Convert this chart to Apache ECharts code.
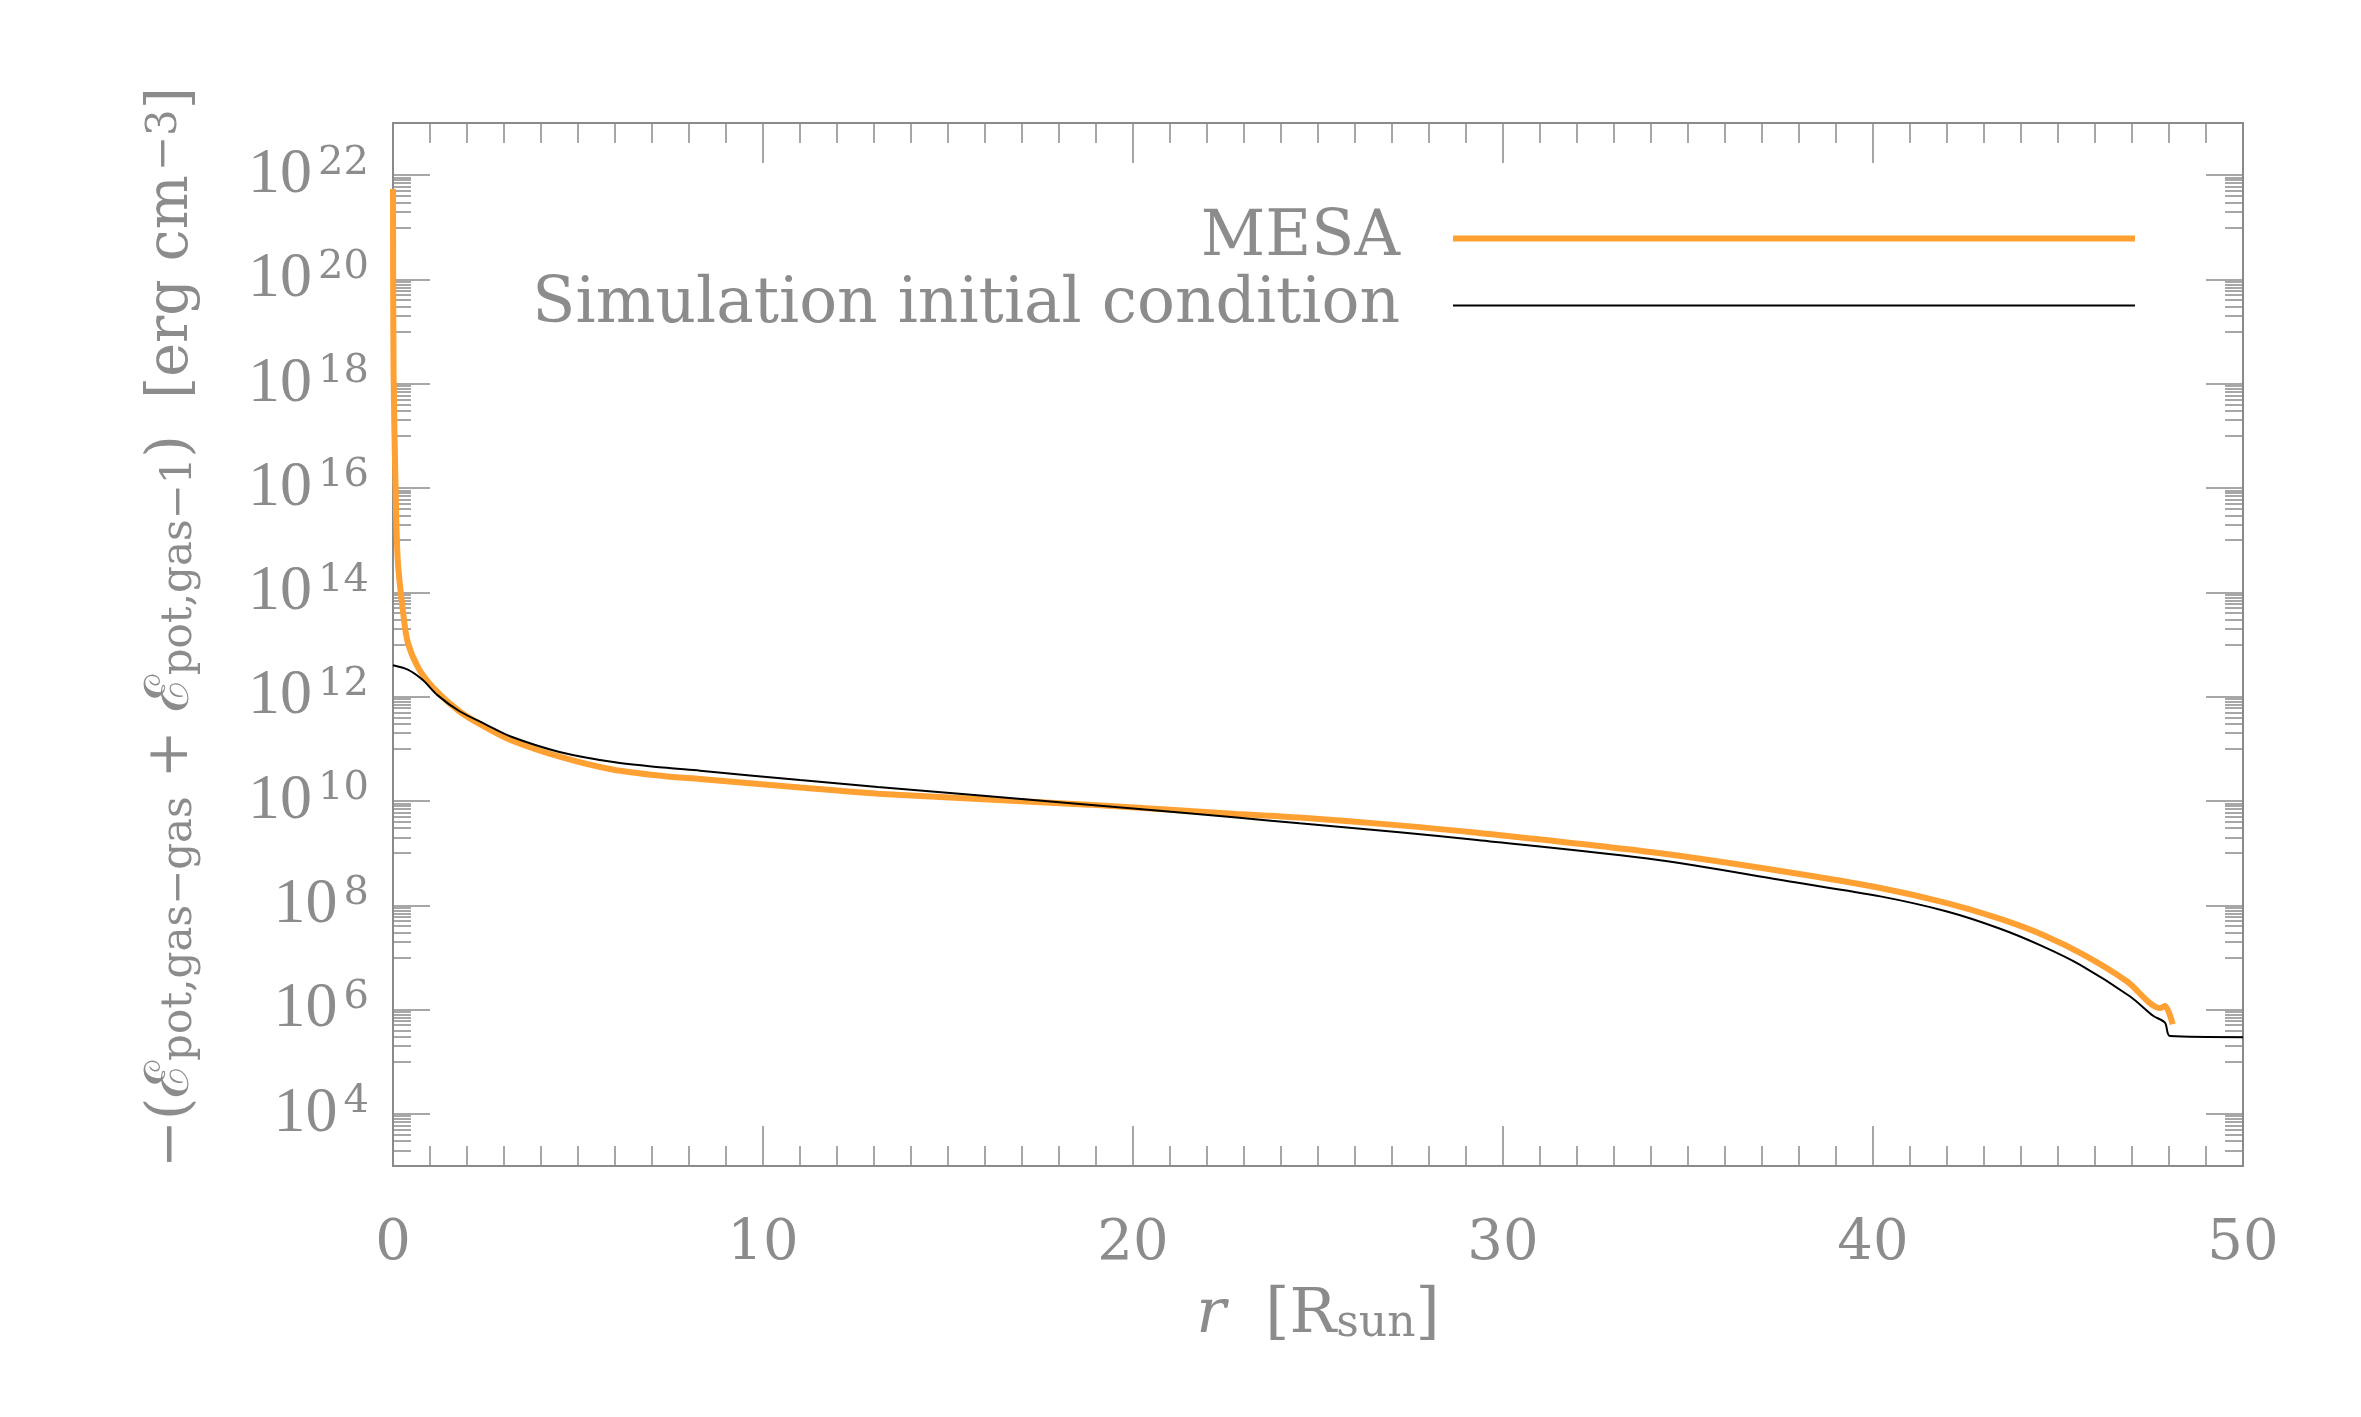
<!DOCTYPE html>
<html>
<head>
<meta charset="utf-8">
<title>Gravitational potential energy density</title>
<script src="https://cdn.jsdelivr.net/npm/echarts@6/dist/echarts.min.js"></script>
<style>
    html, body { margin: 0; padding: 0; background: #ffffff; }
    #chart { width: 2361px; height: 1417px; }
</style>
</head>
<body>
<div id="chart"></div>
<script>
// radius in R_sun, energy density in erg cm^-3
var mesaR = [0, 0.015, 0.07, 0.13, 0.27, 0.4, 0.69, 1.1, 1.79, 2.48, 3.17, 4.55, 5.93, 7.3, 8.3, 11, 13.1, 18.8, 22.8, 24.5, 27.2, 29.3, 34.2, 37.8, 40.2, 42.0, 43.4, 44.6, 45.7, 46.86, 47.76, 47.89, 48.1];
var mesaE = [5.4e21, 1.7e18, 9.5e15, 4.0e14, 4.3e13, 1.1e13, 3.5e12, 1.45e12, 5.25e11, 2.63e11, 1.48e11, 6.9e10, 4.0e10, 3.0e10, 2.63e10, 1.82e10, 1.38e10, 8.5e9, 5.6e9, 4.8e9, 3.4e9, 2.45e9, 1.0e9, 4.2e8, 2.14e8, 1.1e8, 5.6e7, 2.7e7, 1.12e7, 3.5e6, 1.07e6, 1.17e6, 5.2e5];

var simR = [0, 0.4, 0.8, 1.2, 1.8, 2.5, 3.2, 4.5, 6.0, 7.3, 8.3, 11, 13.1, 18.8, 22.8, 24.5, 27.2, 29.3, 34.2, 37.8, 40.2, 42.0, 43.4, 44.5, 45.6, 46.95, 47.57, 47.89, 48.03, 50];
var simE = [4.0e12, 3.3e12, 2.1e12, 1.07e12, 5.25e11, 2.95e11, 1.70e11, 8.7e10, 5.5e10, 4.37e10, 3.8e10, 2.51e10, 1.86e10, 8.5e9, 4.8e9, 3.72e9, 2.5e9, 1.78e9, 7.4e8, 2.82e8, 1.48e8, 7.6e7, 3.63e7, 1.74e7, 7.2e6, 1.78e6, 7.6e5, 5.6e5, 3.1e5, 2.95e5];

// labelled decades on the y axis
var yMajorTicks = [1e4, 1e6, 1e8, 1e10, 1e12, 1e14, 1e16, 1e18, 1e20, 1e22];
// minor ticks: 1..9 x 10^odd
var yMinorTicks = [];
for (var e = 3; e <= 23; e += 2) {
    for (var k = 1; k <= 9; k++) {
        var v = k * Math.pow(10, e);
        if (v >= 1e3 && v <= 1e23) {
            yMinorTicks.push(v);
        }
    }
}

var GRAY = '#8c8c8c';
var AXIS_GRAY = '#8a8a8a';
var FONT = '"Liberation Serif", "DejaVu Serif", serif';
var WIDE = '"DejaVu Serif", serif';

function pairs(xs, ys) {
    var out = [];
    for (var i = 0; i < xs.length; i++) {
        out.push([xs[i], ys[i]]);
    }
    return out;
}

var myChart = echarts.init(document.getElementById('chart'), null, { renderer: 'canvas' });

var yBase = {
    type: 'log',
    logBase: 10,
    min: 1e3,
    max: 1e23,
    splitLine: { show: false },
    minorTick: { show: false },
    minorSplitLine: { show: false }
};

function yAxisOf(extra) {
    return Object.assign({}, yBase, extra);
}

var xBase = {
    type: 'value',
    min: 0,
    max: 50,
    interval: 10,
    axisLine: { show: true, onZero: false, lineStyle: { color: AXIS_GRAY, width: 2 } },
    axisTick: { show: true, inside: true, length: 40, lineStyle: { color: AXIS_GRAY, width: 1.5 } },
    minorTick: { show: true, splitNumber: 10, length: 20, lineStyle: { color: AXIS_GRAY, width: 1.5 } },
    splitLine: { show: false },
    minorSplitLine: { show: false }
};

var legendText = { color: GRAY, fontSize: 63, fontFamily: WIDE, padding: [0, 48, 0, 0] };

option = {
    animation: false,
    backgroundColor: '#ffffff',
    grid: {
        left: 393,
        right: 118,
        top: 123,
        bottom: 251,
        containLabel: false
    },
    legend: [{
        data: ['MESA'],
        right: 226,
        top: 207,
        padding: 0,
        align: 'right',
        icon: 'rect',
        itemWidth: 682,
        itemHeight: 6,
        textStyle: legendText
    }, {
        data: ['Simulation initial condition'],
        right: 226,
        top: 274,
        padding: 0,
        align: 'right',
        icon: 'rect',
        itemWidth: 682,
        itemHeight: 2,
        textStyle: legendText
    }],
    xAxis: [
        Object.assign({}, xBase, {
            position: 'bottom',
            axisLabel: { show: true, margin: 50, color: GRAY, fontSize: 56, fontFamily: WIDE },
            name: '{i|r}{t|  [R}{sub|sun}{t|]}',
            nameLocation: 'middle',
            nameGap: 116,
            nameTextStyle: {
                rich: {
                    i: { fontSize: 62, lineHeight: 62, fontStyle: 'italic', color: GRAY, fontFamily: WIDE, verticalAlign: 'top' },
                    t: { fontSize: 62, lineHeight: 62, color: GRAY, fontFamily: WIDE, verticalAlign: 'top' },
                    sub: { fontSize: 44, lineHeight: 44, color: GRAY, fontFamily: WIDE, verticalAlign: 'bottom', padding: [26, 0, 0, 0] }
                }
            }
        }),
        Object.assign({}, xBase, {
            position: 'top',
            axisLabel: { show: false }
        })
    ],
    yAxis: [
        yAxisOf({
            position: 'left',
            axisLine: { show: true, lineStyle: { color: AXIS_GRAY, width: 2 } },
            axisTick: { show: true, inside: true, length: 37, customValues: yMajorTicks, lineStyle: { color: AXIS_GRAY, width: 1.5 } },
            axisLabel: {
                show: true,
                margin: 24,
                customValues: yMajorTicks,
                formatter: function (val) {
                    var p = Math.round(Math.log10(val));
                    return '{b|10}{s|' + p + '}';
                },
                rich: {
                    b: { fontSize: 64, lineHeight: 64, color: GRAY, fontFamily: FONT, verticalAlign: 'bottom' },
                    s: { fontSize: 40, lineHeight: 40, color: GRAY, fontFamily: WIDE, verticalAlign: 'top', padding: [0, 0, 30, 6] }
                }
            },
            name: '{t|−(}{e|ℰ}{sub|pot,gas−gas}{t| + }{e|ℰ}{sub|pot,gas−1}{t|)  [erg cm}{sup|−3}{t|]}',
            nameLocation: 'middle',
            nameGap: 192,
            nameTextStyle: {
                padding: [0, 0, 0, 34],
                rich: {
                    t: { fontSize: 57, lineHeight: 57, color: GRAY, fontFamily: WIDE, verticalAlign: 'middle' },
                    e: { fontSize: 61, lineHeight: 57, color: GRAY, fontFamily: WIDE, verticalAlign: 'middle' },
                    sub: { fontSize: 42, lineHeight: 42, color: GRAY, fontFamily: WIDE, verticalAlign: 'bottom', padding: [36, 0, 0, 0] },
                    sup: { fontSize: 42, lineHeight: 42, color: GRAY, fontFamily: WIDE, verticalAlign: 'top', padding: [0, 0, 36, 4] }
                }
            }
        }),
        yAxisOf({
            position: 'left',
            axisLine: { show: false },
            axisTick: { show: true, inside: true, length: 18, customValues: yMinorTicks, lineStyle: { color: AXIS_GRAY, width: 1.5 } },
            axisLabel: { show: false }
        }),
        yAxisOf({
            position: 'right',
            axisLine: { show: true, lineStyle: { color: AXIS_GRAY, width: 2 } },
            axisTick: { show: true, inside: true, length: 37, customValues: yMajorTicks, lineStyle: { color: AXIS_GRAY, width: 1.5 } },
            axisLabel: { show: false }
        }),
        yAxisOf({
            position: 'right',
            axisLine: { show: false },
            axisTick: { show: true, inside: true, length: 18, customValues: yMinorTicks, lineStyle: { color: AXIS_GRAY, width: 1.5 } },
            axisLabel: { show: false }
        })
    ],
    series: [{
        name: 'MESA',
        type: 'line',
        xAxisIndex: 0,
        yAxisIndex: 0,
        data: pairs(mesaR, mesaE),
        symbol: 'none',
        smooth: 0.3,
        color: '#ffa033',
        lineStyle: { color: '#ffa033', width: 6 },
        z: 3
    }, {
        name: 'Simulation initial condition',
        type: 'line',
        xAxisIndex: 0,
        yAxisIndex: 0,
        data: pairs(simR, simE),
        symbol: 'none',
        smooth: 0.3,
        color: '#000000',
        lineStyle: { color: '#000000', width: 2 },
        z: 4
    }]
};

myChart.setOption(option);
</script>
</body>
</html>
